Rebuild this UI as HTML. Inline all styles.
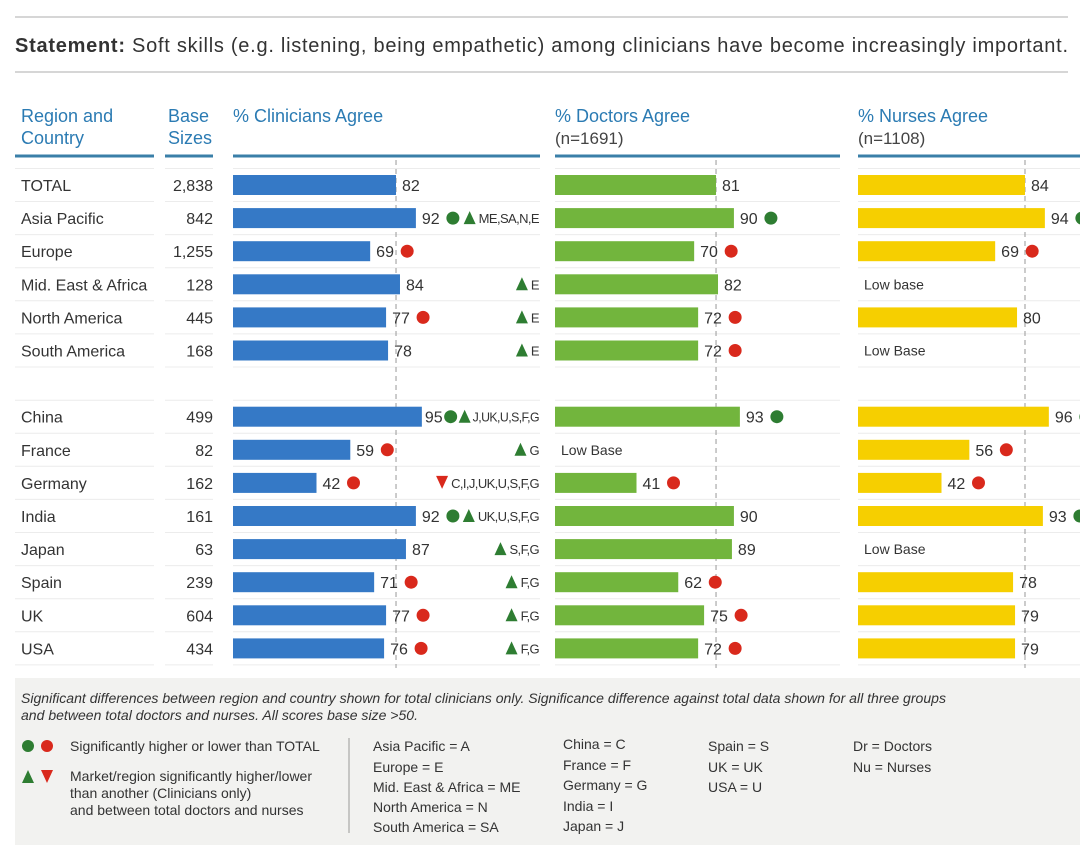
<!DOCTYPE html>
<html><head><meta charset="utf-8"><style>
html,body{margin:0;padding:0;background:#fff;width:1080px;height:851px;overflow:hidden}
svg{display:block;font-family:"Liberation Sans",sans-serif}
</style></head><body>
<svg id="chart" width="1080" height="851">
<line x1="15" y1="17" x2="1068" y2="17" stroke="#d6d6d6" stroke-width="2"/>
<text x="15" y="52" font-size="20" fill="#333" textLength="1053" lengthAdjust="spacing"><tspan font-weight="bold">Statement:</tspan>  Soft skills (e.g. listening, being empathetic) among clinicians have become increasingly important.</text>
<line x1="15" y1="72" x2="1068" y2="72" stroke="#d6d6d6" stroke-width="2"/>
<g fill="#2b7bb3" font-size="18">
<text x="21" y="122">Region and</text><text x="21" y="144">Country</text>
<text x="168" y="122">Base</text><text x="168" y="144">Sizes</text>
<text x="233" y="122">% Clinicians Agree</text>
<text x="555" y="122">% Doctors Agree</text>
<text x="555" y="144" fill="#444" font-size="17">(n=1691)</text>
<text x="858" y="122">% Nurses Agree</text>
<text x="858" y="144" fill="#444" font-size="17">(n=1108)</text>
</g>
<g stroke="#3a7fa8" stroke-width="3">
<line x1="15" y1="156" x2="154" y2="156"/><line x1="165" y1="156" x2="213" y2="156"/>
<line x1="233" y1="156" x2="540" y2="156"/><line x1="555" y1="156" x2="840" y2="156"/><line x1="858" y1="156" x2="1080" y2="156"/>
</g>
<g id="rows"></g>
<rect x="15" y="678" width="1065" height="167" fill="#f2f2f0"/>
<g font-size="13.5" fill="#333" font-style="italic">
<text x="21" y="703" textLength="925" lengthAdjust="spacingAndGlyphs">Significant differences between region and country shown for total clinicians only. Significance difference against total data shown for all three groups</text>
<text x="21" y="720" textLength="397" lengthAdjust="spacingAndGlyphs">and between total doctors and nurses. All scores base size &gt;50.</text>
</g>
<g font-size="14" fill="#333">
<circle cx="28" cy="746" r="6" fill="#2e7d32"/><circle cx="47" cy="746" r="6" fill="#d9291c"/>
<text x="70" y="751">Significantly higher or lower than TOTAL</text>
<polygon points="22,783 34,783 28,770" fill="#2e7d32"/><polygon points="41,770 53,770 47,783" fill="#d9291c"/>
<text x="70" y="781">Market/region significantly higher/lower</text>
<text x="70" y="798">than another (Clinicians only)</text>
<text x="70" y="815">and between total doctors and nurses</text>
<line x1="349" y1="738" x2="349" y2="833" stroke="#999"/>
<text x="373" y="751">Asia Pacific = A</text><text x="373" y="772">Europe = E</text><text x="373" y="792">Mid. East &amp; Africa = ME</text><text x="373" y="812">North America  = N</text><text x="373" y="832">South America = SA</text>
<text x="563" y="749">China = C</text><text x="563" y="770">France = F</text><text x="563" y="790">Germany = G</text><text x="563" y="811">India = I</text><text x="563" y="831">Japan = J</text>
<text x="708" y="751">Spain = S</text><text x="708" y="772">UK = UK</text><text x="708" y="792">USA = U</text>
<text x="853" y="751">Dr = Doctors</text><text x="853" y="772">Nu = Nurses</text>
</g>
</svg>
<script>
const categories=["TOTAL","Asia Pacific","Europe","Mid. East & Africa","North America","South America","","China","France","Germany","India","Japan","Spain","UK","USA"];
const baseSizes=["2,838","842","1,255","128","445","168","","499","82","162","161","63","239","604","434"];
const clinicians=[82,92,69,84,77,78,null,95,59,42,92,87,71,77,76];
const doctors=[81,90,70,82,72,72,null,93,null,41,90,89,62,75,72];
const nurses=[84,94,69,null,80,null,null,96,56,42,93,null,78,79,79];
const clinSig=["","g","r","","r","",null,"g","r","r","g","","r","r","r"];
const docSig=["","g","r","","r","r",null,"g","","r","","","r","r","r"];
const nurSig=["","g","r","","","",null,"g","r","r","g","","","",""];
const docLow=["","","","","","",null,"","Low Base","","","","","",""];
const nurLow=["","","","Low base","","Low Base",null,"","","","","Low Base","","",""];
const clinNotes=["","▲ME,SA,N,E","","▲E","▲E","▲E",null,"▲J,UK,U,S,F,G","▲G","▼C,I,J,UK,U,S,F,G","▲UK,U,S,F,G","▲S,F,G","▲F,G","▲F,G","▲F,G"];
const totalRef=[82,81,84];
const NS="http://www.w3.org/2000/svg";
const g=document.getElementById('rows');
const K=1.988;
const cols=[{x0:233,x1:540,data:clinicians,sig:clinSig,low:null,color:"#3579c6",name:"clinicians"},
{x0:555,x1:840,data:doctors,sig:docSig,low:docLow,color:"#72b53d",name:"doctors"},
{x0:858,x1:1080,data:nurses,sig:nurSig,low:nurLow,color:"#f6cf00",name:"nurses"}];
function xs(c,v){return c.x0+v*K;}
function rowY(i){return 185+i*33.1;}
function mk(tag,attrs,txt){const e=document.createElementNS(NS,tag);for(const k in attrs)e.setAttribute(k,attrs[k]);if(txt!==undefined)e.textContent=txt;g.appendChild(e);return e;}
const segs=[[15,154],[165,213],[233,540],[555,840],[858,1080]];
categories.forEach((c,i)=>{
  if(i===6) return;
  const y=rowY(i)+16.5;
  segs.forEach(s=>mk('line',{x1:s[0],x2:s[1],y1:y,y2:y,stroke:"#ececec"}));
});
segs.forEach(s=>mk('line',{x1:s[0],x2:s[1],y1:rowY(7)-16.5,y2:rowY(7)-16.5,stroke:"#ececec"}));
segs.forEach(s=>mk('line',{x1:s[0],x2:s[1],y1:rowY(0)-16.5,y2:rowY(0)-16.5,stroke:"#ececec"}));
cols.forEach((c,j)=>{const x=xs(c,totalRef[j]);const l=mk('line',{x1:x,x2:x,y1:160,y2:668,stroke:"#999","stroke-dasharray":"5,4"});

});
categories.forEach((cat,i)=>{
  if(!cat) return;
  const y=rowY(i);
  const t=mk('text',{x:21,y:y+6,"font-size":16,fill:"#333"},cat);
  
  
  const b=mk('text',{x:213,y:y+6,"font-size":16,fill:"#333","text-anchor":"end"},baseSizes[i]);
  
  
  let clinDot=null,clinLabel=null,clinXe=0;
  cols.forEach(c=>{
    const v=c.data[i];
    if(v===null){ if(c.low&&c.low[i]){const lt=mk('text',{x:c.x0+6,y:y+5,"font-size":14,fill:"#333"},c.low[i]);
      
      } return;}
    const xe=xs(c,v);
    const r=mk('rect',{x:c.x0,y:y-10,width:xe-c.x0,height:20,fill:c.color});
    
    
    const vl=mk('text',{x:xe+6,y:y+6,"font-size":16,fill:"#333"},v);
    
    
    if(c.name==="clinicians"){clinLabel=vl;clinXe=xe;}
    const s=c.sig[i];
    if(s){const ci=mk('circle',{cx:xe+37,cy:y,r:6.5,fill:s==="g"?"#2e7d32":"#d9291c"});
      
      
      if(c.name==="clinicians") clinDot=ci;}
  });
  const n=clinNotes[i];
  if(n){const up=n[0]==="▲";const txt=n.slice(1);
    const nt=mk('text',{x:539,y:y+5,"font-size":13,fill:"#333","text-anchor":"end","letter-spacing":"-0.6"},txt);
    
    
    let w=txt.length*6;try{w=nt.getComputedTextLength();}catch(e){}
    let tx=539-w-9;
    if(clinDot){const cx=parseFloat(clinDot.getAttribute('cx'));
      if(cx+7>tx-6){
        clinLabel.setAttribute('x',clinXe+3);
        let lw=18;try{lw=clinLabel.getComputedTextLength();}catch(e){}
        const ncx=clinXe+3+lw+8;
        clinDot.setAttribute('cx',ncx);
        tx=ncx+14;
        const avail=539-(tx+8);
        if(avail<w){nt.setAttribute('textLength',avail);nt.setAttribute('lengthAdjust','spacingAndGlyphs');}
      }}
    const tri=mk('polygon',{points:up?`${tx-6},${y+6} ${tx+6},${y+6} ${tx},${y-7}`:`${tx-6},${y-7} ${tx+6},${y-7} ${tx},${y+6}`,fill:up?"#2e7d32":"#d9291c"});
    
    }
});
</script>
</body></html>
